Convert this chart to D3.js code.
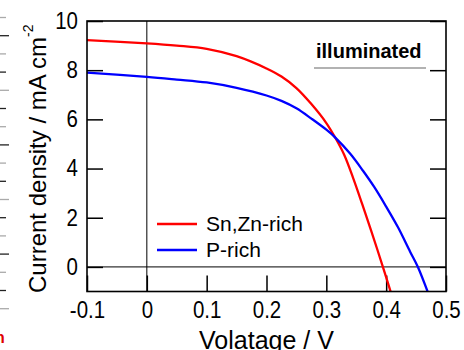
<!DOCTYPE html>
<html>
<head>
<meta charset="utf-8">
<script src="https://cdn.jsdelivr.net/npm/d3@7"></script>
<style>
  body { margin: 0; background: #fff; }
  svg { display: block; font-family: "Liberation Sans", Arial, sans-serif; }
</style>
</head>
<body>
<script>
// J-V curves (voltage in V, current density in mA cm^-2)
const redV = [-0.1, 0, 0.05, 0.1, 0.15, 0.2, 0.225, 0.25, 0.275, 0.3, 0.315, 0.33, 0.345, 0.36, 0.375, 0.3945, 0.408];
const redJ = [9.22, 9.09, 9.0, 8.87, 8.57, 8.07, 7.74, 7.27, 6.62, 5.85, 5.25, 4.55, 3.6, 2.55, 1.47, 0, -1.05];
const blueV = [-0.1, 0, 0.05, 0.1, 0.15, 0.2, 0.225, 0.25, 0.275, 0.3, 0.315, 0.34, 0.361, 0.38, 0.4, 0.42, 0.44, 0.453, 0.47];
const blueJ = [7.9, 7.73, 7.62, 7.5, 7.28, 6.97, 6.75, 6.45, 6.03, 5.58, 5.26, 4.6, 3.92, 3.25, 2.45, 1.6, 0.62, 0, -1.05];

const seriesNames = ['Sn,Zn-rich', 'P-rich'];
const seriesColors = ['#ff0000', '#0000ff'];
const xTicks = [-0.1, 0, 0.1, 0.2, 0.3, 0.4, 0.5];
const yTicks = [0, 2, 4, 6, 8, 10];

const width = 464, height = 350;
const pLeft = 87, pRight = 446, pTop = 21, pBottom = 291.5;

const svg = d3.select('body').append('svg')
    .attr('width', width)
    .attr('height', height);

const x = d3.scaleLinear().domain([-0.1, 0.5]).range([pLeft, pRight]);
const y = d3.scaleLinear().domain([-1, 10]).range([pBottom, pTop]);

// stray ticks from the neighbouring panel at the far left edge
const stray = d3.range(17);
svg.selectAll('line.stray')
    .data(stray)
    .enter().append('line')
    .attr('class', 'stray')
    .attr('x1', 0).attr('x2', d => d % 3 === 1 ? 9 : 6)
    .attr('y1', d => 17.5 + d * 18.2).attr('y2', d => 17.5 + d * 18.2)
    .attr('stroke', d => d % 2 ? '#222' : '#aaa')
    .attr('stroke-width', 1.3);

svg.append('text')
    .attr('x', -5).attr('y', 343)
    .attr('fill', '#e00000')
    .style('font-size', '16px').style('font-weight', 'bold')
    .text('n');

// zero lines
svg.append('line')
    .attr('x1', x(0)).attr('x2', x(0)).attr('y1', pTop).attr('y2', pBottom)
    .attr('stroke', '#000').attr('stroke-width', 1);
svg.append('line')
    .attr('x1', pLeft).attr('x2', pRight).attr('y1', y(0)).attr('y2', y(0))
    .attr('stroke', '#000').attr('stroke-width', 1);

// axes with inward ticks
const fmtX = d => d === 0 ? '0' : d3.format('.1f')(d).replace('−', '-');

const xAxis = svg.append('g')
    .attr('transform', `translate(0,${pBottom})`)
    .call(d3.axisBottom(x).tickValues(xTicks).tickFormat(fmtX)
        .tickSizeInner(-16).tickSizeOuter(0).tickPadding(10));

const yAxis = svg.append('g')
    .attr('transform', `translate(${pLeft},0)`)
    .call(d3.axisLeft(y).tickValues(yTicks).tickFormat(d3.format('d'))
        .tickSizeInner(-16).tickSizeOuter(0).tickPadding(9));

svg.append('g')
    .attr('transform', `translate(${pRight},0)`)
    .call(d3.axisRight(y).tickValues(yTicks).tickFormat('')
        .tickSizeInner(-16).tickSizeOuter(0));

svg.selectAll('.domain').remove();
svg.selectAll('.tick line').attr('stroke', '#000').attr('stroke-width', 1.5);
xAxis.selectAll('text')
    .attr('fill', '#000')
    .style('font-size', '23px')
    .style('font-family', '"Liberation Sans", Arial, sans-serif')
    .attr('transform', 'scale(0.89,1)');
yAxis.selectAll('text')
    .attr('fill', '#000')
    .style('font-size', '23px')
    .style('font-family', '"Liberation Sans", Arial, sans-serif')
    .attr('transform', 'scale(0.89,1)')
    .attr('x', -9 / 0.89);

// curves
const line = d3.line()
    .x(d => x(d[0]))
    .y(d => y(d[1]))
    .curve(d3.curveCatmullRom.alpha(0.5));

svg.append('clipPath').attr('id', 'plot')
    .append('rect').attr('x', pLeft).attr('y', pTop)
    .attr('width', pRight - pLeft).attr('height', pBottom - pTop);

const series = [d3.zip(redV, redJ), d3.zip(blueV, blueJ)];
svg.append('g').attr('clip-path', 'url(#plot)')
    .selectAll('path')
    .data(series)
    .enter().append('path')
    .attr('d', line)
    .attr('fill', 'none')
    .attr('stroke', (d, i) => seriesColors[i])
    .attr('stroke-width', 2.3);

// frame
svg.append('rect')
    .attr('x', pLeft).attr('y', pTop)
    .attr('width', pRight - pLeft).attr('height', pBottom - pTop)
    .attr('fill', 'none').attr('stroke', '#000').attr('stroke-width', 1.6);

// legend
const legend = svg.append('g');
seriesNames.forEach((name, i) => {
    const ly = 224 + i * 26;
    legend.append('line')
        .attr('x1', 157).attr('x2', 197).attr('y1', ly).attr('y2', ly)
        .attr('stroke', seriesColors[i]).attr('stroke-width', 2.5);
    legend.append('text')
        .attr('x', 206).attr('y', ly + 7)
        .style('font-size', '21px')
        .text(name);
});

// annotation
svg.append('text')
    .attr('x', 316).attr('y', 58)
    .style('font-size', '20px').style('font-weight', 'bold')
    .text('illuminated');
svg.append('line')
    .attr('x1', 314).attr('x2', 426).attr('y1', 68).attr('y2', 68)
    .attr('stroke', '#999').attr('stroke-width', 1.5);

// axis titles
svg.append('text')
    .attr('x', (pLeft + pRight) / 2).attr('y', 349)
    .attr('text-anchor', 'middle')
    .style('font-size', '25px')
    .text('Volatage / V');

const yt = svg.append('text')
    .attr('transform', 'translate(46,293) rotate(-90)')
    .style('font-size', '24px');
yt.append('tspan').text('Current density / mA cm');
yt.append('tspan').attr('dy', -13).style('font-size', '14px').text('-2');
</script>
</body>
</html>
